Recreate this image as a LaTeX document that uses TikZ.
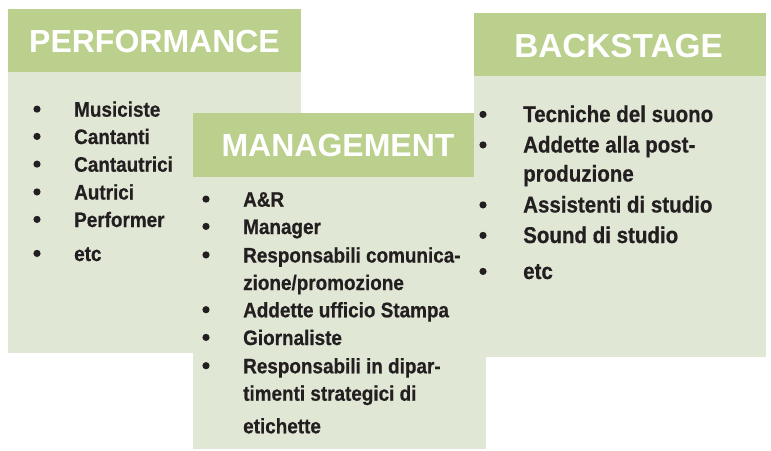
\documentclass[tikz,border=0pt]{standalone}
\usepackage{fontspec}
\setmainfont{Liberation Sans}
\newfontfamily\bodyfont[FakeStretch=0.9,BoldFeatures={FakeBold=0.6}]{Liberation Sans}
\definecolor{headgreen}{RGB}{186,208,140}
\definecolor{bodygreen}{RGB}{225,231,213}
\definecolor{textdark}{RGB}{35,31,32}
\tikzset{
  headbox/.style={fill=headgreen, draw=none},
  bodybox/.style={fill=bodygreen, draw=none},
  htext/.style={anchor=base, inner sep=0pt, text=white, font=\bfseries\fontsize{32}{32}\selectfont},
  item/.style={anchor=base west, inner sep=0pt, text=textdark, font=\bodyfont\bfseries\fontsize{21}{21}\selectfont},
  bigitem/.style={item, font=\bodyfont\bfseries\fontsize{22.8}{22.8}\selectfont},
  dot/.style={fill=textdark}
}
% \bitem{bullet x}{text x}{baseline y}{name}{style}{text}
\newcommand\bitem[6]{%
  \fill[dot] ([yshift=7.6pt]#1,#3) circle (3.6pt);
  \node[#5] (#4) at (#2,#3) {#6};}
\begin{document}
\begin{tikzpicture}[x=1pt,y=-1pt]
\useasboundingbox (0,0) rectangle (771,450);
% PERFORMANCE
\fill[bodybox] (8,72) rectangle (301,353);
\fill[headbox] (8,9) rectangle (301,72);
\node[htext] (perfh) at (154.5,52) {PERFORMANCE};
\bitem{37}{74}{116.7}{p1}{item}{Musiciste}
\bitem{37}{74}{144}{p2}{item}{Cantanti}
\bitem{37}{74}{171.7}{p3}{item}{Cantautrici}
\bitem{37}{74}{199.5}{p4}{item}{Autrici}
\bitem{37}{74}{227}{p5}{item}{Performer}
\bitem{37}{74}{261}{p6}{item}{etc}
% MANAGEMENT
\fill[bodybox] (193,177) rectangle (486,449);
\fill[headbox] (193,113) rectangle (486,177);
\node[htext] (manh) at (338,156) {MANAGEMENT};
\bitem{206}{243}{206.7}{m1}{item}{A\&R}
\bitem{206}{243}{234}{m2}{item}{Manager}
\bitem{206}{243}{262.5}{m3}{item}{Responsabili comunica-}
\node[item] (m3b) at (243,290) {zione/promozione};
\bitem{206}{243}{317.3}{m4}{item}{Addette ufficio Stampa}
\bitem{206}{243}{345}{m5}{item}{Giornaliste}
\bitem{206}{243}{373.3}{m6}{item}{Responsabili in dipar-}
\node[item] (m6b) at (243,400.7) {timenti strategici di};
\node[item] (m6c) at (243,433.3) {etichette};
% BACKSTAGE
\fill[bodybox] (474,76) rectangle (766,357);
\fill[headbox] (474,13) rectangle (766,76);
\node[htext, font=\bfseries\fontsize{33.3}{33.3}\selectfont] (backh) at (618.5,57) {BACKSTAGE};
\bitem{483}{523}{122}{b1}{bigitem}{Tecniche del suono}
\bitem{483}{523}{152.5}{b2}{bigitem}{Addette alla post-}
\node[bigitem] (b2b) at (523,181.5) {produzione};
\bitem{483}{523}{212.5}{b3}{bigitem}{Assistenti di studio}
\bitem{483}{523}{243}{b4}{bigitem}{Sound di studio}
\bitem{483}{523}{279}{b5}{bigitem}{etc}
\end{tikzpicture}
\end{document}
